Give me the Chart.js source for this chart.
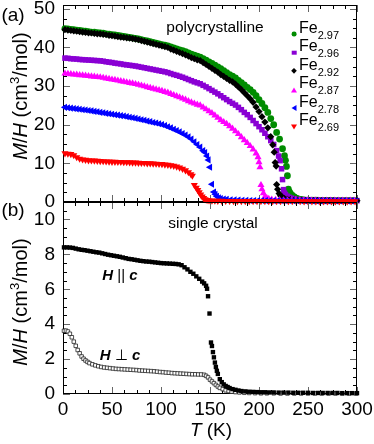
<!DOCTYPE html>
<html>
<head>
<meta charset="utf-8">
<script src="https://cdn.jsdelivr.net/npm/chart.js@4.4.1/dist/chart.umd.min.js"></script>
<style>
  html, body { margin: 0; padding: 0; background: #fff; }
  #page { position: relative; width: 374px; height: 444px; overflow: hidden;
          font-family: "Liberation Sans", Arial, Helvetica, sans-serif; color: #000; }
  .panel { position: absolute; left: 0; width: 374px; }
  #panelA { top: 0; height: 208px; }
  #panelB { top: 196px; height: 248px; }
  .lbl { position: absolute; transform: translate(-50%, -50%); white-space: nowrap; line-height: 1; }
  .ytitle { position: absolute; transform: translate(-50%, -50%) rotate(-90deg); white-space: nowrap;
            font-size: 20px; line-height: 1; }
  .ytitle sup { font-size: 13px; vertical-align: 8px; }
  .leg { position: absolute; left: 0; top: 0; }
  .leg .mk { position: absolute; }
  .leg .tx { position: absolute; left: 299px; font-size: 16px; line-height: 16px; white-space: nowrap; }
  .leg .tx sub { font-size: 11px; vertical-align: -5.5px; }
  .hc { font-weight: bold; font-style: italic; font-size: 15px; }
</style>
</head>
<body>
<div id="page">
  <div class="panel" id="panelA"><canvas id="chartA" width="374" height="208"></canvas></div>
  <div class="panel" id="panelB"><canvas id="chartB" width="374" height="248"></canvas></div>

  <div class="lbl" style="left:13px; top:14px; font-size:19px;">(a)</div>
  <div class="lbl" style="left:13px; top:209px; font-size:19px;">(b)</div>
  <div class="lbl" style="left:215px; top:27px; font-size:15.5px;">polycrystalline</div>
  <div class="lbl" style="left:213px; top:223px; font-size:15.5px;">single crystal</div>
  <div class="lbl hc" style="left:120px; top:274px;">H <span style="font-weight:normal;font-style:normal;">||</span> c</div>
  <div class="lbl hc" style="left:120px; top:354px;">H <span style="font-weight:normal;font-style:normal;">⊥</span> c</div>
  <div class="ytitle" style="left:19px; top:96px;"><i>M</i>/<i>H</i> (cm<sup>3</sup>/mol)</div>
  <div class="ytitle" style="left:19px; top:302px;"><i>M</i>/<i>H</i> (cm<sup>3</sup>/mol)</div>
  <div class="lbl" style="left:211px; top:429px; font-size:19px;"><i>T</i> (K)</div>
  <div id="legend"></div>
</div>

<script>
// ---- panel (a): polycrystalline, M/H vs T ----
const tBase = [2, 5, 8, 11, 14, 17, 20, 23, 26, 29, 32, 35, 38, 41, 44, 47, 50, 53, 56, 59, 62, 65, 68, 71, 74, 77, 80, 83, 86, 89,
  92, 95, 98, 101, 104, 107, 110, 113, 116, 119, 122, 125, 128, 131, 134, 137, 140, 143, 146, 149, 152, 155, 158, 161, 164, 167,
  170, 173, 176, 179, 182, 185, 188, 191, 194, 197];

const tFe297 = [...tBase, 200, 203, 206, 209, 212, 215, 218, 221, 224, 226, 227, 228, 229, 230, 231, 232, 234, 236, 238, 240,
  243, 246, 250, 254, 258, 262, 266, 270, 274, 278, 282, 286, 290, 294, 298];
const mFe297 = [44.9, 44.8, 44.7, 44.6, 44.5, 44.4, 44.3, 44.2, 44.1, 44.0, 43.95, 43.85, 43.8, 43.7, 43.55, 43.45, 43.35, 43.25,
  43.1, 43.0, 42.85, 42.75, 42.6, 42.5, 42.35, 42.2, 42.05, 41.85, 41.7, 41.5, 41.3, 41.1, 40.95, 40.75, 40.6, 40.4, 40.15, 39.9,
  39.65, 39.4, 39.15, 38.9, 38.6, 38.3, 38.0, 37.75, 37.5, 37.1, 36.7, 36.3, 35.9, 35.4, 35.0, 34.5, 34.0, 33.5, 33.0, 32.6, 32.1,
  31.5, 30.9, 30.3, 29.7, 29.1, 28.4, 27.5,
  26.5, 25.5, 24.4, 23.2, 21.6, 20.0, 18.0, 16.3, 13.8, 12.0, 10.8, 9.2, 6.8, 3.3, 2.6, 2.2, 1.7, 1.3, 1.0, 0.8,
  0.65, 0.55, 0.5, 0.45, 0.45, 0.42, 0.4, 0.4, 0.4, 0.38, 0.38, 0.37, 0.37, 0.36, 0.36];

const tFe296 = [...tBase, 200, 203, 206, 209, 212, 215, 218, 220, 221.5, 223, 224, 225, 226, 227, 229, 231, 233, 236, 240, 244,
  248, 252, 256, 260, 264, 268, 272, 276, 280, 284, 288, 292, 296, 300];
const mFe296 = [37.25, 37.2, 37.1, 37.05, 37.0, 36.9, 36.85, 36.8, 36.75, 36.7, 36.65, 36.6, 36.55, 36.45, 36.3, 36.2, 36.1, 35.95,
  35.85, 35.75, 35.6, 35.5, 35.4, 35.3, 35.2, 35.05, 34.9, 34.75, 34.6, 34.45, 34.3, 34.15, 34.0, 33.85, 33.7, 33.5, 33.25, 33.0,
  32.8, 32.55, 32.3, 32.0, 31.7, 31.4, 31.1, 30.85, 30.6, 30.2, 29.8, 29.35, 28.9, 28.45, 28.0, 27.5, 27.0, 26.5, 26.0, 25.55, 25.1,
  24.5, 23.9, 23.2, 22.6, 21.9, 21.1, 20.3,
  19.5, 18.7, 17.8, 16.9, 15.9, 14.9, 13.3, 11.9, 10.7, 8.6, 5.8, 3.2, 2.3, 1.9, 1.5, 1.2, 1.0, 0.8, 0.65, 0.55,
  0.5, 0.45, 0.45, 0.42, 0.4, 0.4, 0.4, 0.38, 0.38, 0.37, 0.37, 0.36, 0.36, 0.35];

const tFe292 = [...tBase, 200, 203, 206, 209, 212, 214, 215.5, 216.5, 217.5, 218, 219, 220.5, 222, 224, 226, 229, 232, 236, 240,
  244, 248, 252, 256, 260, 264, 268, 272, 276, 280, 284, 288, 292, 296, 300];
const mFe292 = [44.6, 44.5, 44.4, 44.3, 44.2, 44.1, 44.0, 43.9, 43.8, 43.75, 43.65, 43.55, 43.5, 43.4, 43.3, 43.15, 43.05, 42.95,
  42.8, 42.7, 42.6, 42.5, 42.4, 42.3, 42.15, 42.0, 41.8, 41.6, 41.4, 41.2, 41.0, 40.8, 40.6, 40.4, 40.2, 40.0, 39.6, 39.3, 39.0,
  38.7, 38.4, 38.1, 37.75, 37.4, 37.1, 36.8, 36.6, 36.1, 35.6, 35.1, 34.6, 34.1, 33.6, 33.0, 32.5, 32.0, 31.5, 31.1, 30.5, 29.8,
  29.1, 28.3, 27.5, 26.7, 25.8, 24.6,
  23.4, 22.1, 20.7, 19.2, 16.9, 14.8, 12.9, 10.2, 9.3, 4.5, 3.3, 2.2, 1.6, 1.2, 0.9, 0.7, 0.6, 0.5, 0.45,
  0.45, 0.42, 0.4, 0.4, 0.4, 0.38, 0.38, 0.37, 0.37, 0.36, 0.36, 0.35, 0.35, 0.35, 0.34];

const tFe287 = [...tBase, 199, 200, 201, 202, 203, 204.5, 206, 208, 210, 213, 217, 221, 225, 229, 233, 237, 241, 245, 249, 253,
  257, 261, 265, 269, 273, 277, 281, 285, 289, 293, 297];
const mFe287 = [33.25, 33.2, 33.1, 33.0, 32.95, 32.85, 32.8, 32.7, 32.6, 32.5, 32.45, 32.35, 32.3, 32.15, 32.0, 31.85, 31.7, 31.6,
  31.45, 31.3, 31.15, 31.0, 30.85, 30.7, 30.55, 30.35, 30.15, 29.95, 29.75, 29.55, 29.35, 29.15, 28.95, 28.75, 28.5, 28.3, 28.0,
  27.7, 27.4, 27.1, 26.8, 26.5, 26.1, 25.8, 25.5, 25.2, 25.0, 24.5, 24.0, 23.5, 23.0, 22.4, 21.8, 21.2, 20.7, 20.2, 19.6, 19.0,
  18.3, 17.6, 16.8, 16.0, 15.3, 14.5, 13.6, 12.6,
  11.6, 10.3, 9.0, 4.4, 3.3, 2.3, 1.4, 1.0, 0.8, 0.65, 0.55, 0.5, 0.45, 0.45, 0.42, 0.42, 0.4, 0.4, 0.4, 0.38,
  0.38, 0.37, 0.37, 0.36, 0.36, 0.35, 0.35, 0.35, 0.34, 0.34, 0.34];

const tFe278 = [...tBase.slice(0, 47), 143, 145, 147, 148.5, 150, 152, 154, 155.5, 157, 159, 161, 164, 167, 171, 175, 179, 183,
  187, 191, 195, 199, 203, 207, 211, 215, 219, 223, 227, 231, 235, 239, 243, 247, 251, 255, 259, 263, 267, 271, 275, 279, 283,
  287, 291, 295, 299];
const mFe278 = [24.5, 24.4, 24.3, 24.2, 24.1, 24.0, 23.9, 23.8, 23.7, 23.6, 23.45, 23.35, 23.2, 23.1, 22.95, 22.85, 22.7, 22.6,
  22.5, 22.35, 22.25, 22.1, 21.95, 21.8, 21.65, 21.5, 21.3, 21.15, 20.95, 20.8, 20.6, 20.45, 20.25, 20.05, 19.8, 19.5, 19.2, 18.85,
  18.5, 18.15, 17.75, 17.35, 16.85, 16.3, 15.6, 14.9, 14.2,
  13.3, 12.8, 11.9, 10.9, 9.0, 4.6, 2.6, 2.0, 1.5, 1.1, 0.9, 0.75, 0.7, 0.6, 0.55, 0.5, 0.45, 0.42, 0.4, 0.4,
  0.38, 0.37, 0.36, 0.35, 0.35, 0.34, 0.34, 0.33, 0.33, 0.32, 0.32, 0.32, 0.31, 0.31, 0.3, 0.3, 0.3, 0.3, 0.29, 0.29,
  0.29, 0.28, 0.28, 0.28, 0.28, 0.27];

const tFe269 = [...tBase.slice(0, 43), 130.5, 132, 134, 136, 137.5, 139, 140.5, 142, 143.5, 145, 147, 149, 152, 155, 158, 162,
  166, 170, 174, 178, 182, 186, 190, 194, 198, 202, 206, 210, 214, 218, 222, 226, 230, 234, 238, 242, 246, 250, 254, 258, 262,
  266, 270, 274, 278, 282, 286, 290, 294, 298];
const mFe269 = [12.6, 12.5, 12.4, 12.1, 11.6, 11.2, 11.0, 10.9, 10.8, 10.75, 10.7, 10.65, 10.6, 10.55, 10.5, 10.45, 10.4, 10.4,
  10.35, 10.35, 10.3, 10.3, 10.25, 10.2, 10.2, 10.15, 10.1, 10.1, 10.0, 10.0, 9.95, 9.9, 9.85, 9.8, 9.7, 9.6, 9.5, 9.35, 9.15,
  8.9, 8.6, 8.2, 7.7,
  7.2, 6.8, 4.4, 3.7, 3.1, 2.5, 1.9, 1.4, 1.0, 0.7, 0.5, 0.4, 0.35, 0.32, 0.3, 0.28, 0.27, 0.26, 0.25, 0.25,
  0.24, 0.24, 0.23, 0.23, 0.22, 0.22, 0.22, 0.21, 0.21, 0.2, 0.2, 0.2, 0.2, 0.19, 0.19, 0.19, 0.18, 0.18, 0.18, 0.18,
  0.17, 0.17, 0.17, 0.17, 0.16, 0.16, 0.16, 0.16, 0.15, 0.15];

// ---- panel (b): single crystal ----
const tPar = [1, 4, 7, 10, 13, 16, 19, 22, 25, 28, 31, 34, 37, 40, 43, 46, 49, 52, 55, 58, 61, 64, 67, 70, 73, 76, 79, 82, 85, 88,
  91, 94, 97, 100, 103, 106, 109, 112, 115, 118, 121, 124, 127, 130, 133, 136, 139, 142, 144, 146, 147, 148, 149.5, 151, 152,
  153, 154, 155, 156, 157, 158, 160, 162, 164, 166, 168, 170, 173, 176, 179, 182, 186, 190, 194, 198, 202, 206, 210, 215, 220,
  225, 230, 235, 240, 245, 250, 255, 260, 265, 270, 275, 280, 285, 290, 295, 300];
const mPar = [8.4, 8.4, 8.39, 8.37, 8.33, 8.29, 8.26, 8.24, 8.21, 8.18, 8.15, 8.12, 8.1, 8.06, 8.02, 7.98, 7.95, 7.92, 7.89, 7.86,
  7.82, 7.78, 7.74, 7.72, 7.69, 7.66, 7.63, 7.61, 7.59, 7.58, 7.56, 7.54, 7.52, 7.5, 7.49, 7.48, 7.47, 7.46, 7.45, 7.43,
  7.38, 7.26, 7.14, 7.0, 6.89, 6.74, 6.6, 6.44, 6.34, 6.2, 6.03, 5.6, 4.61, 2.95, 2.75, 2.4, 2.1, 1.8, 1.55, 1.33,
  1.15, 0.85, 0.68, 0.55, 0.46, 0.4, 0.34, 0.28, 0.24, 0.2, 0.17, 0.15, 0.13, 0.12, 0.11, 0.1, 0.1, 0.09, 0.09, 0.08,
  0.08, 0.08, 0.07, 0.07, 0.07, 0.07, 0.06, 0.06, 0.06, 0.06, 0.06, 0.06, 0.05, 0.05, 0.05, 0.05];

const tPerp = [1, 3, 5, 7, 9, 11, 13, 15, 17, 19, 21, 23, 25, 27, 30, 33, 36, 39, 42, 45, 48, 51, 54, 57, 60, 63, 66, 69, 72, 75,
  78, 81, 84, 87, 90, 93, 96, 99, 102, 105, 108, 111, 114, 117, 120, 123, 126, 129, 132, 135, 138, 141, 144, 146, 148, 150,
  152, 154, 156, 158, 160, 163, 166, 169, 172, 176, 180, 185, 190, 196, 202, 208, 215, 222, 229, 236, 243, 250, 257, 264,
  271, 278, 285, 292, 299];
const mPerp = [3.62, 3.63, 3.58, 3.45, 3.25, 3.0, 2.76, 2.52, 2.33, 2.15, 2.02, 1.92, 1.84, 1.77, 1.7, 1.64, 1.59, 1.55, 1.52, 1.5,
  1.48, 1.46, 1.44, 1.43, 1.42, 1.41, 1.4, 1.39, 1.38, 1.37, 1.35, 1.34, 1.33, 1.32, 1.31, 1.3, 1.28, 1.26, 1.25, 1.23,
  1.22, 1.2, 1.19, 1.18, 1.17, 1.16, 1.15, 1.14, 1.13, 1.13, 1.12, 1.12, 1.1, 1.04, 0.95, 0.82, 0.72, 0.62, 0.52, 0.43,
  0.35, 0.28, 0.21, 0.17, 0.14, 0.11, 0.09, 0.07, 0.06, 0.05, 0.04, 0.04, 0.04, 0.03, 0.03, 0.03, 0.03, 0.03, 0.03, 0.03,
  0.03, 0.03, 0.03, 0.03, 0.03];

// tick labels
const xTicks = [0, 50, 100, 150, 200, 250, 300];
const yTicksA = [0, 10, 20, 30, 40, 50];
const yTicksB = [0, 2, 4, 6, 8, 10];

const seriesA = [
  { name: '2.97', t: tFe297, m: mFe297, color: '#008c00', style: 'circle', r: 3.4, rot: 0 },
  { name: '2.96', t: tFe296, m: mFe296, color: '#8a00d4', style: 'rect', r: 3.9, rot: 0 },
  { name: '2.92', t: tFe292, m: mFe292, color: '#000000', style: 'rectRot', r: 3.6, rot: 0 },
  { name: '2.87', t: tFe287, m: mFe287, color: '#ff00ff', style: 'triangle', r: 4.1, rot: 0 },
  { name: '2.78', t: tFe278, m: mFe278, color: '#0000ff', style: 'triangle', r: 4.1, rot: -90 },
  { name: '2.69', t: tFe269, m: mFe269, color: '#ff0000', style: 'triangle', r: 4.1, rot: 180 },
];

const pts = (t, m) => t.map((x, i) => ({ x, y: m[i] }));

Chart.defaults.font.family = '"Liberation Sans", Arial, Helvetica, sans-serif';
Chart.defaults.color = '#000';

// frame plus inward minor/major ticks on all four sides
const frameTicks = {
  id: 'frameTicks',
  beforeDatasetsDraw(chart, args, o) {
    const { ctx, chartArea: a, scales: { x, y } } = chart;
    ctx.save();
    ctx.lineWidth = 1;
    const line = (x1, y1, x2, y2, c) => {
      ctx.strokeStyle = c; ctx.beginPath(); ctx.moveTo(x1, y1); ctx.lineTo(x2, y2); ctx.stroke();
    };
    for (let v = x.min; v <= x.max + 1e-6; v += o.xStep) {
      const px = Math.round(x.getPixelForValue(v)) + 0.5;
      const major = Math.abs(v / o.xMajor - Math.round(v / o.xMajor)) < 1e-6;
      const len = major ? 7 : 4, c = major ? '#666' : '#000';
      line(px, a.bottom, px, a.bottom - len, c);
      line(px, a.top, px, a.top + len, c);
    }
    for (let v = y.min; v <= y.max + 1e-6; v += o.yStep) {
      const py = Math.round(y.getPixelForValue(v)) + 0.5;
      const major = Math.abs(v / o.yMajor - Math.round(v / o.yMajor)) < 1e-6;
      const len = major ? 7 : 4, c = major ? '#666' : '#000';
      line(a.left, py, a.left + len, py, c);
      line(a.right, py, a.right - len, py, c);
    }
    ctx.strokeStyle = '#000';
    ctx.strokeRect(Math.round(a.left) + 0.5, Math.round(a.top) + 0.5,
      Math.round(a.right - a.left) - 1, Math.round(a.bottom - a.top) - 1);
    ctx.restore();
  }
};

const tickFont = { size: 19 };
// keep the layout from growing the plot margins for tick label overhang
const noPad = s => { s.paddingTop = 0; s.paddingBottom = 0; s.paddingLeft = 0; s.paddingRight = 0; };

new Chart(document.getElementById('chartA'), {
  type: 'scatter',
  data: {
    datasets: seriesA.map((s, i) => ({
      label: 'Fe' + s.name,
      data: pts(s.t, s.m),
      pointStyle: s.style,
      pointRadius: s.r,
      pointRotation: s.rot,
      pointBackgroundColor: s.color,
      pointBorderColor: s.color,
      pointBorderWidth: 0,
      showLine: false,
      clip: false,
      order: seriesA.length - i,
    })),
  },
  options: {
    responsive: false, animation: false, events: [],
    layout: { padding: { left: 0, right: 17, top: 5, bottom: 6 } },
    plugins: { legend: { display: false }, tooltip: { enabled: false },
      frameTicks: { xStep: 12.5, xMajor: 50, yStep: 2.5, yMajor: 10 } },
    scales: {
      x: { type: 'linear', min: 0, max: 300, display: false },
      y: {
        type: 'linear', min: 0, max: 51,
        afterBuildTicks: s => { s.ticks = yTicksA.map(v => ({ value: v })); },
        afterFit: s => { s.width = 63; noPad(s); },
        ticks: { font: tickFont, padding: 8, color: '#000' },
        grid: { display: false, drawTicks: false },
        border: { display: false },
      },
    },
  },
  plugins: [frameTicks],
});

new Chart(document.getElementById('chartB'), {
  type: 'scatter',
  data: {
    datasets: [
      { label: 'H || c', data: pts(tPar, mPar), pointStyle: 'rect', pointRadius: 3.1,
        pointBackgroundColor: '#000', pointBorderColor: '#000', pointBorderWidth: 0, showLine: false, clip: false, order: 1 },
      { label: 'H ⊥ c', data: pts(tPerp, mPerp), pointStyle: 'rect', pointRadius: 2.5,
        pointBackgroundColor: '#fff', pointBorderColor: '#222', pointBorderWidth: 0.8, showLine: false, clip: false, order: 2 },
    ],
  },
  options: {
    responsive: false, animation: false, events: [],
    layout: { padding: { left: 0, right: 17, top: 6, bottom: 0 } },
    plugins: { legend: { display: false }, tooltip: { enabled: false },
      frameTicks: { xStep: 12.5, xMajor: 50, yStep: 0.5, yMajor: 2 } },
    scales: {
      x: {
        type: 'linear', min: 0, max: 300,
        afterBuildTicks: s => { s.ticks = xTicks.map(v => ({ value: v })); },
        afterFit: s => { s.height = 50; noPad(s); },
        ticks: { font: tickFont, padding: 4, color: '#000', maxRotation: 0 },
        grid: { display: false, drawTicks: false },
        border: { display: false },
      },
      y: {
        type: 'linear', min: 0, max: 11,
        afterBuildTicks: s => { s.ticks = yTicksB.map(v => ({ value: v })); },
        afterFit: s => { s.width = 63; noPad(s); },
        ticks: { font: tickFont, padding: 8, color: '#000' },
        grid: { display: false, drawTicks: false },
        border: { display: false },
      },
    },
  },
  plugins: [frameTicks],
});

// legend for panel (a)
const legendY = [34, 52.5, 71, 89.5, 108, 126.5];
const markerCss = {
  circle: c => `width:4.8px;height:4.8px;border-radius:50%;background:${c};`,
  rect: c => `width:4.6px;height:4.6px;background:${c};`,
  rectRot: c => `width:4.2px;height:4.2px;background:${c};transform:translate(-50%,-50%) rotate(45deg) !important;`,
  up: c => `width:0;height:0;border-left:3px solid transparent;border-right:3px solid transparent;border-bottom:5px solid ${c};`,
  left: c => `width:0;height:0;border-top:3px solid transparent;border-bottom:3px solid transparent;border-right:5px solid ${c};`,
  down: c => `width:0;height:0;border-left:3px solid transparent;border-right:3px solid transparent;border-top:5px solid ${c};`,
};
const legendShape = ['circle', 'rect', 'rectRot', 'up', 'left', 'down'];
document.getElementById('legend').innerHTML = seriesA.map((s, i) => {
  const cy = legendY[i];
  const rot = legendShape[i] === 'rectRot' ? ' rotate(45deg)' : '';
  return `<div class="leg">
      <div class="mk" style="left:294px;top:${cy}px;${markerCss[legendShape[i]](s.color)}transform:translate(-50%,-50%)${rot};"></div>
      <div class="tx" style="top:${cy - 14.5}px">Fe<sub>${s.name}</sub></div>
    </div>`;
}).join('');
</script>
</body>
</html>
